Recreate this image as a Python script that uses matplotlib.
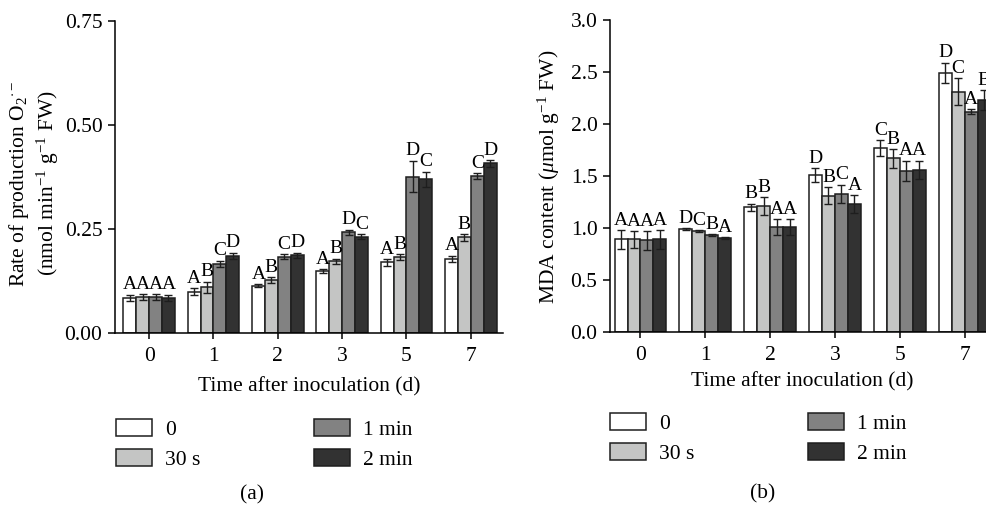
import numpy as np
import matplotlib
matplotlib.use('Agg')
import matplotlib.pyplot as plt
from matplotlib.patches import Patch

plt.rcParams['font.family'] = ['Liberation Serif', 'DejaVu Serif']
plt.rcParams['mathtext.fontset'] = 'custom'
plt.rcParams['mathtext.rm'] = 'Liberation Serif'
plt.rcParams['mathtext.it'] = 'Liberation Serif:italic'
plt.rcParams['font.size'] = 15.5

days = ['0', '1', '2', '3', '5', '7']
treatments = ['0', '30 s', '1 min', '2 min']
colors = ['#ffffff', '#c4c5c4', '#828282', '#323232']

# (a) superoxide production rate
o2_mean = [
    [0.085, 0.099, 0.114, 0.149, 0.170, 0.178],
    [0.087, 0.110, 0.127, 0.173, 0.182, 0.230],
    [0.087, 0.166, 0.183, 0.242, 0.376, 0.377],
    [0.085, 0.185, 0.187, 0.231, 0.369, 0.408],
]
o2_err = [
    [0.007, 0.008, 0.004, 0.005, 0.008, 0.008],
    [0.007, 0.013, 0.007, 0.006, 0.007, 0.008],
    [0.007, 0.008, 0.006, 0.006, 0.038, 0.007],
    [0.007, 0.008, 0.006, 0.006, 0.019, 0.008],
]
o2_letters = [
    ['A', 'A', 'A', 'A', 'A', 'A'],
    ['A', 'B', 'B', 'B', 'B', 'B'],
    ['A', 'C', 'C', 'D', 'D', 'C'],
    ['A', 'D', 'D', 'C', 'C', 'D'],
]

# (b) MDA content
mda_mean = [
    [0.89, 0.99, 1.20, 1.51, 1.77, 2.49],
    [0.89, 0.97, 1.21, 1.31, 1.67, 2.31],
    [0.88, 0.93, 1.01, 1.33, 1.55, 2.12],
    [0.89, 0.90, 1.01, 1.23, 1.56, 2.23],
]
mda_err = [
    [0.09, 0.01, 0.035, 0.064, 0.074, 0.098],
    [0.08, 0.008, 0.085, 0.083, 0.090, 0.128],
    [0.09, 0.01, 0.075, 0.087, 0.096, 0.020],
    [0.09, 0.01, 0.075, 0.088, 0.088, 0.096],
]
mda_letters = [
    ['A', 'D', 'B', 'D', 'C', 'D'],
    ['A', 'C', 'B', 'B', 'B', 'C'],
    ['A', 'B', 'A', 'C', 'A', 'A'],
    ['A', 'A', 'A', 'A', 'A', 'B'],
]


def draw_panel(ax, means, errs, letters, ymax, yticks, fmt):
    ind = np.arange(len(days))
    width = 0.2
    for i in range(len(treatments)):
        pos = ind + (i - 1.5) * width
        ax.bar(pos, means[i], width, yerr=errs[i], color=colors[i],
               edgecolor='#1e1e1e', linewidth=1.1,
               error_kw=dict(ecolor='#1e1e1e', elinewidth=1.0, capsize=3, capthick=1.0),
               label=treatments[i])
        for x, m, e, t in zip(pos, means[i], errs[i], letters[i]):
            ax.annotate(t, (x, m + e), xytext=(0, 1), textcoords='offset points',
                        ha='center', va='bottom', fontsize=14)
    ax.set_ylim(0, ymax)
    ax.set_yticks(yticks)
    ax.set_yticklabels([fmt % v for v in yticks])
    ax.set_xticks(ind)
    ax.set_xticklabels(days)
    ax.spines['top'].set_visible(False)
    ax.spines['right'].set_visible(False)
    ax.spines['left'].set_linewidth(1.1)
    ax.spines['bottom'].set_linewidth(1.1)
    ax.tick_params(axis='y', length=5, width=1.1, pad=4, labelsize=15.5)
    ax.tick_params(axis='x', length=4, width=1.1, pad=6, labelsize=15.5)


fig = plt.figure(figsize=(9.87, 5.05), dpi=100)
W, H = 987.0, 505.0

ax1 = fig.add_axes([115 / W, 1 - 333 / H, (503 - 115) / W, (333 - 21) / H])
draw_panel(ax1, o2_mean, o2_err, o2_letters, 0.75, [0, 0.25, 0.5, 0.75], '%.2f')
ax1.set_xlim(-0.53, 5.5)
ax1.set_ylabel('Rate of production O$_2$$^{\\cdot-}$\n(nmol min$^{-1}$ g$^{-1}$ FW)',
               linespacing=1.2)
ax1.yaxis.set_label_coords(-0.14, 0.48)
ax1.set_xlabel('Time after inoculation (d)')
ax1.xaxis.set_label_coords(0.5, -0.141)

ax2 = fig.add_axes([610 / W, 1 - 332 / H, (997 - 610) / W, (332 - 20) / H])
draw_panel(ax2, mda_mean, mda_err, mda_letters, 3.0, [0, 0.5, 1.0, 1.5, 2.0, 2.5, 3.0], '%.1f')
ax2.set_xlim(-0.47, 5.5)
ax2.set_ylabel('MDA content ($\\mu$mol g$^{-1}$ FW)')
ax2.yaxis.set_label_coords(-0.125, 0.497)
ax2.set_xlabel('Time after inoculation (d)')
ax2.xaxis.set_label_coords(0.496, -0.128)

handles = [Patch(facecolor=c, edgecolor='#1e1e1e', linewidth=1.1) for c in colors]
for x0, y0 in [(116, 419), (610, 413)]:
    fig.legend(handles, treatments, loc='upper left',
               bbox_to_anchor=(x0 / W, 1 - y0 / H), ncol=2, frameon=False,
               borderpad=0, borderaxespad=0, handlelength=1.67, handleheight=0.84,
               handletextpad=0.6, columnspacing=5.3, labelspacing=0.4, fontsize=15.5)

fig.text(252 / W, 1 - 495 / H, '(a)', ha='center', va='center', fontsize=15.5)
fig.text(763 / W, 1 - 494 / H, '(b)', ha='center', va='center', fontsize=15.5)

plt.savefig('out.png', dpi=100)
